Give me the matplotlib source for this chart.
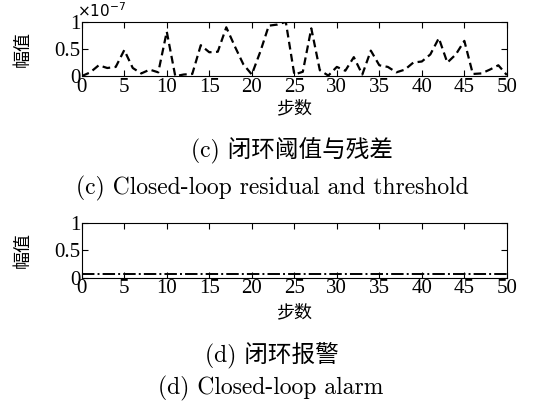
import numpy as np
import matplotlib
matplotlib.use("Agg")
import matplotlib.pyplot as plt

# residual amplitude, in units of 1e-7, for steps 0..50
steps = np.arange(0, 51)
residual = [0.0, 0.07, 0.2, 0.15, 0.17, 0.48, 0.15, 0.05, 0.12, 0.07,
            0.82, 0.0, 0.03, 0.04, 0.57, 0.44, 0.45, 0.9, 0.55, 0.22,
            0.03, 0.45, 0.93, 0.95, 1.0, 0.03, 0.08, 0.88, 0.11, 0.01,
            0.17, 0.1, 0.35, 0.03, 0.47, 0.2, 0.17, 0.07, 0.12, 0.25,
            0.27, 0.4, 0.7, 0.25, 0.4, 0.65, 0.04, 0.05, 0.12, 0.2,
            0.02]
alarm = [0.07] * 51

xticks = [0, 5, 10, 15, 20, 25, 30, 35, 40, 45, 50]
yticks = [0, 0.5, 1]
ytick_labels = ['0', '0.5', '1']

serif = ['Liberation Serif', 'Noto Sans CJK SC']
cap = ['cmr10', 'Noto Sans CJK SC']
cjk = ['Noto Sans CJK SC']

fig = plt.figure(figsize=(5.45, 4.05), dpi=100)
ax1 = fig.add_axes([0.150, 0.812, 0.780, 0.134])
ax2 = fig.add_axes([0.150, 0.314, 0.780, 0.135])


def style(ax, xlab_y):
    ax.set_xlim(0, 50)
    ax.set_ylim(0, 1)
    ax.set_xticks(xticks)
    ax.set_yticks(yticks)
    ax.set_xticklabels([str(t) for t in xticks], family=serif, fontsize=15)
    ax.set_yticklabels(ytick_labels, family=serif, fontsize=15)
    ax.tick_params(direction='in', top=True, right=True, length=4,
                   width=0.8, pad=1)
    for s in ax.spines.values():
        s.set_linewidth(0.8)
    ax.set_ylabel('幅值', family=cjk, fontsize=13, va='center')
    ax.yaxis.set_label_coords(-0.138, 0.5)
    ax.set_xlabel('步数', family=cjk, fontsize=13, va='top')
    ax.xaxis.set_label_coords(0.5, xlab_y)


ax1.plot(steps, residual, color='k', lw=1.6, dashes=(3.5, 2))
style(ax1, -0.42)
ax1.text(-0.01, 1.04, r'$\times10^{-7}$', transform=ax1.transAxes,
         fontsize=11, ha='left', va='bottom', family=serif)

ax2.plot(steps, alarm, color='k', lw=1.4, linestyle='-.')
style(ax2, -0.46)

fig.text(0.535, 0.627, '(c) 闭环阈值与残差', family=cap, fontsize=17,
         ha='center', va='center')
fig.text(0.500, 0.535, '(c) Closed-loop residual and threshold', family=cap,
         fontsize=17, ha='center', va='center')
fig.text(0.499, 0.123, '(d) 闭环报警', family=cap, fontsize=17,
         ha='center', va='center')
fig.text(0.497, 0.040, '(d) Closed-loop alarm', family=cap, fontsize=17,
         ha='center', va='center')

fig.savefig('out.png', dpi=100)
